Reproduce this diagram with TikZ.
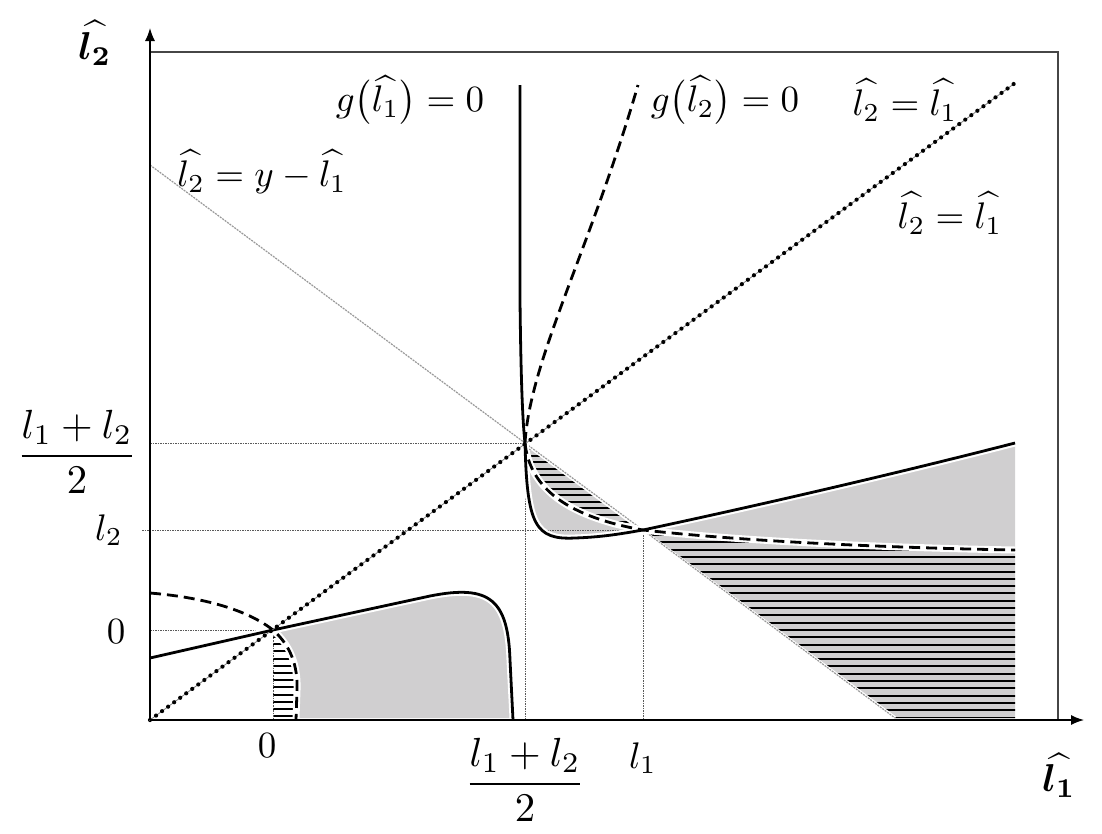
\documentclass[tikz,border=0pt]{standalone}
\usepackage{amsmath,bm}
\usetikzlibrary{arrows.meta}
\definecolor{regiongray}{RGB}{208,207,208}
\definecolor{framegray}{RGB}{70,70,70}
\begin{document}
\begin{tikzpicture}[x=1pt,y=-1pt,
  lbl/.style={inner sep=0pt, scale=3.7},
  curve/.style={line width=2.8pt, black},
  dashcurve/.style={line width=2.8pt, black, dash pattern=on 11pt off 6pt},
  halo/.style={line width=7pt, white},
  guide/.style={line width=0.8pt, gray!70!black, dash pattern=on 1.5pt off 1pt},
  hatchline/.style={line width=2pt, black},
  diagline/.style={line width=1.2pt, gray!80, dash pattern=on 2pt off 1pt},
  dotline/.style={line width=4.2pt, black, line cap=round, dash pattern=on 0pt off 7.5pt},
  framebox/.style={line width=1.6pt, framegray},
  axis/.style={line width=1.4pt, black, -{Latex[length=13pt,width=10pt]}}
]
\useasboundingbox (0,0) rectangle (1102,833);

\coordinate (O) at (273,630);
\coordinate (P) at (525,443);
\coordinate (L) at (643,530);
\coordinate (base) at (150,720);

% ---- shaded regions
\fill[regiongray] (O) -- (430,596) .. controls (490,584) and (508,600) .. (510,660) -- (513,718) -- (296,718) -- (297,690) .. controls (298,665) and (290,645) .. (O) -- cycle;
\fill[regiongray] (P) -- (L) .. controls (625,533) and (605,537) .. (575,538) .. controls (535,540) and (527,525) .. (P) -- cycle;
\fill[regiongray] (L) .. controls (760,505) and (890,475) .. (1015,443) -- (1015,550) .. controls (900,548) and (750,542) .. (L) -- cycle;

% ---- hatched regions
\begin{scope}
  \clip (O) -- (273,718) -- (296,718) -- (297,690) .. controls (298,665) and (290,645) .. (O) -- cycle;
  \fill[white] (260,620) rectangle (310,720);
  \foreach \k in {0,...,12} {\draw[hatchline] (260,{637+\k*7.2}) -- (310,{637+\k*7.2});}
\end{scope}
\begin{scope}
  \clip (P) -- (L) .. controls (570,517) and (530,490) .. (P) -- cycle;
  \foreach \k in {0,...,13} {\draw[hatchline] (520,{449+\k*6.6}) -- (650,{449+\k*6.6});}
\end{scope}
\begin{scope}
  \clip (L) .. controls (750,542) and (900,548) .. (1015,550) -- (1015,718) -- (895,718) -- cycle;
  \fill[regiongray] (640,525) rectangle (1020,720);
  \foreach \k in {0,...,25} {\draw[hatchline] (640,{535+\k*7.3}) -- (1020,{535+\k*7.3});}
\end{scope}

% ---- guide lines
\draw[guide] (150,443) -- (P);
\draw[guide] (142,530) -- (L);
\draw[guide] (150,630) -- (O);
\draw[guide] (O) -- (273,720);
\draw[guide] (P) -- (525,720);
\draw[guide] (L) -- (643,720);

% ---- line l2 = y - l1
\draw[white, line width=3.5pt] (150,165) -- (895,718);
\draw[diagline] (150,165) -- (P) -- (L) -- (895,718);

% ---- white halos
\draw[halo] (150,658) -- (O) -- (430,596) .. controls (490,584) and (508,600) .. (510,660) -- (513,718);
\draw[halo] (150,593) .. controls (210,598) and (250,612) .. (O) .. controls (290,645) and (298,665) .. (297,690) -- (296,718);
\draw[halo] (P) .. controls (527,525) and (535,540) .. (575,538) .. controls (605,537) and (625,533) .. (L) .. controls (760,505) and (890,475) .. (1015,443);
\draw[halo] (P) .. controls (530,490) and (570,517) .. (L) .. controls (750,542) and (900,548) .. (1015,550);

% ---- g(l1)=0 (solid)
\draw[curve] (520,85) -- (520,300) .. controls (521,390) and (523,425) .. (P);
\draw[curve] (P) .. controls (527,525) and (535,540) .. (575,538) .. controls (605,537) and (625,533) .. (L) .. controls (760,505) and (890,475) .. (1015,443);
\draw[curve] (150,658) -- (O) -- (430,596) .. controls (490,584) and (508,600) .. (510,660) -- (513,720);

% ---- g(l2)=0 (dashed)
\draw[dashcurve] (P) .. controls (530,360) and (590,250) .. (638,85);
\draw[dashcurve] (P) .. controls (530,490) and (570,517) .. (L) .. controls (750,542) and (900,548) .. (1015,550);
\draw[dashcurve] (150,593) .. controls (210,598) and (250,612) .. (O) .. controls (290,645) and (298,665) .. (297,690) -- (296,720);

% ---- l2 = l1 (dotted)
\draw[line width=0.8pt, gray] (base) -- (1015,83);
\draw[dotline] (base) -- (1015,83);

% ---- frame and axes
\draw[framebox] (150,52) rectangle (1058,720);
\draw[axis] (base) -- (150,28);
\draw[axis] (base) -- (1084,720);

% ---- labels
\node[lbl] (g1) at (410,100) {$g\bigl(\widehat{l_1}\bigr)=0$};
\node[lbl] (g2) at (725,100) {$g\bigl(\widehat{l_2}\bigr)=0$};
\node[lbl] (d1) at (905,100) {$\widehat{l_2}=\widehat{l_1}$};
\node[lbl] (d2) at (950,213) {$\widehat{l_2}=\widehat{l_1}$};
\node[lbl] (yl) at (262,172) {$\widehat{l_2}=y-\widehat{l_1}$};
\node[lbl, scale=1.05] (ay) at (95,43) {$\boldsymbol{\widehat{l_2}}$};
\node[lbl, scale=1.05] (ax) at (1059,775) {$\boldsymbol{\widehat{l_1}}$};
\node[lbl, scale=1.1] (fy) at (77,452) {$\dfrac{l_1+l_2}{2}$};
\node[lbl] (l2) at (109,530) {$l_2$};
\node[lbl] (zy) at (116,632) {$0$};
\node[lbl] (zx) at (267,746) {$0$};
\node[lbl, scale=1.1] (fx) at (525,780) {$\dfrac{l_1+l_2}{2}$};
\node[lbl] (l1) at (643,758) {$l_1$};
\end{tikzpicture}
\end{document}
